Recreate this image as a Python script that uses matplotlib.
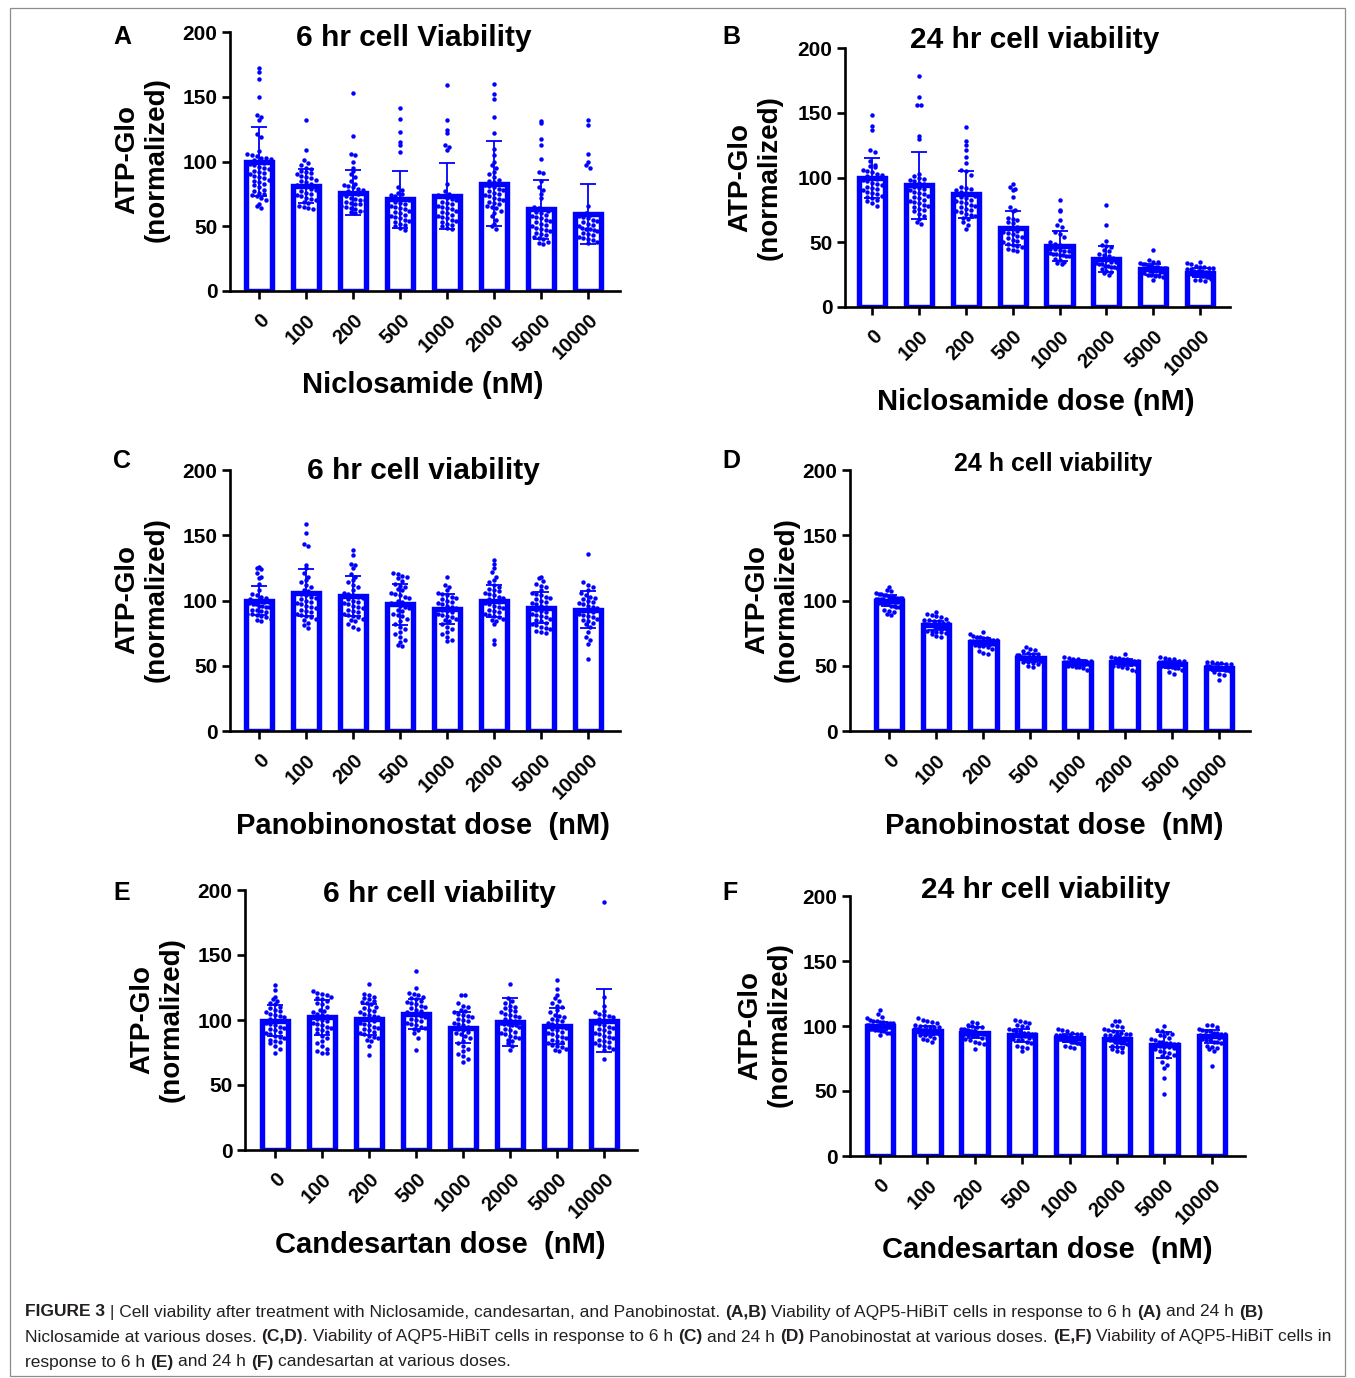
import matplotlib
matplotlib.use("Agg")
import matplotlib.pyplot as plt
import numpy as np

plt.rcParams['font.family'] = ['Liberation Sans', 'DejaVu Sans']

# doses shared by every panel
doses = ['0', '100', '200', '500', '1000', '2000', '5000', '10000']

# panel A: niclosamide 6 hr
a_mean = [100, 81, 76, 71, 73, 83, 63, 59.5]
a_sd = [27, 13, 17.5, 22, 25.5, 33, 23, 23]
a_pts = [
    [172, 169, 164, 150, 136, 134, 132, 121, 119, 108, 106, 105, 104, 103, 103, 102, 101, 100, 99, 98,
     97, 96, 95, 94, 93, 92, 91, 90, 89, 88, 87, 86, 85, 84, 83, 82, 80, 78, 77, 76, 75, 74, 73, 72, 70, 67, 66, 64],
    [132, 109, 101, 99, 97, 95, 94, 93, 92, 91, 90, 89, 88, 87, 86, 85, 84, 83, 82, 81, 80, 79, 78, 77, 76,
     75, 74, 73, 72, 71, 70, 69, 68, 66, 65, 64, 63],
    [153, 120, 106, 105, 100, 95, 93, 90, 88, 85, 83, 82, 81, 80, 79, 78, 77, 76, 75, 74, 73, 72, 71, 70, 70,
     69, 68, 67, 67, 66, 65, 64, 63, 62, 62, 61, 60],
    [141, 133, 123, 115, 113, 107, 80, 78, 76, 75, 74, 73, 72, 71, 70, 69, 68, 67, 66, 65, 64, 63, 62, 61, 60,
     59, 58, 57, 56, 55, 54, 53, 52, 51, 50, 49, 47],
    [159, 132, 124, 122, 113, 111, 109, 83, 77, 75, 74, 73, 72, 71, 70, 69, 68, 67, 66, 65, 64, 63, 62, 61, 60,
     59, 58, 57, 56, 55, 54, 53, 52, 51, 50, 49, 48],
    [160, 152, 148, 134, 122, 110, 105, 100, 97, 95, 92, 90, 88, 86, 85, 84, 83, 82, 81, 80, 79, 78, 77, 76, 75,
     74, 73, 72, 71, 70, 69, 68, 67, 66, 65, 64, 62, 60, 58, 55, 52, 50, 48],
    [131, 130, 117, 113, 102, 92, 91, 85, 80, 78, 75, 72, 65, 64, 63, 62, 61, 60, 59, 58, 57, 56, 55, 54, 53,
     52, 51, 50, 49, 48, 47, 46, 45, 44, 43, 42, 41, 40, 38, 37, 36],
    [132, 128, 106, 100, 97, 95, 66, 60, 59, 58, 57, 56, 55, 54, 53, 52, 51, 50, 50, 49, 48, 48, 47, 46, 46,
     45, 44, 43, 42, 41, 40, 39, 38, 37],
]

# panel B: niclosamide 24 hr
b_mean = [99.5, 94, 87, 61, 47, 37, 29, 26.5]
b_sd = [15.5, 26, 18, 13.5, 11.5, 10, 4.5, 3.5]
b_pts = [
    [148, 140, 137, 121, 120, 113, 110, 109, 108, 106, 105, 104, 103, 102, 101, 100, 99, 98, 97, 96, 95, 94,
     93, 92, 91, 90, 89, 88, 87, 86, 85, 84, 83, 82, 80, 78],
    [178, 162, 156, 156, 132, 130, 103, 101, 100, 99, 98, 97, 96, 95, 94, 93, 92, 91, 90, 89, 88, 87, 86, 85,
     84, 83, 82, 81, 80, 79, 78, 77, 76, 75, 74, 72, 70, 68, 66, 64],
    [139, 128, 125, 121, 116, 111, 106, 105, 102, 93, 92, 91, 90, 89, 88, 87, 86, 85, 84, 83, 82, 81, 80, 79,
     78, 77, 76, 75, 74, 73, 72, 71, 70, 69, 68, 66, 63, 60],
    [95, 93, 91, 90, 85, 77, 75, 74, 69, 68, 67, 66, 65, 62, 61, 60, 59, 58, 57, 56, 55, 54, 53, 52, 51, 50,
     49, 48, 47, 46, 45, 44, 43],
    [83, 75, 74, 67, 63, 62, 58, 56, 54, 50, 49, 48, 47, 46, 45, 45, 44, 43, 43, 42, 42, 41, 41, 40, 40, 39,
     39, 38, 37, 36, 35, 34, 33],
    [79, 63, 51, 48, 47, 46, 44, 43, 41, 40, 39, 38, 37, 36, 36, 35, 35, 34, 34, 33, 33, 32, 32, 31, 31, 30,
     30, 29, 28, 27, 26, 25],
    [44, 36, 35, 35, 34, 33, 33, 32, 32, 31, 31, 31, 30, 30, 30, 29, 29, 29, 28, 28, 28, 27, 27, 27, 26, 26,
     25, 25, 24, 24, 23, 22, 21],
    [35, 34, 33, 32, 31, 31, 30, 30, 29, 29, 28, 28, 28, 27, 27, 27, 26, 26, 26, 25, 25, 25, 24, 24, 24, 23,
     23, 22, 22, 21, 21, 20],
]

# panel C: panobinostat 6 hr
c_mean = [100, 106, 103.5, 97, 93.5, 99.5, 94.5, 93]
c_sd = [11, 18, 15, 16, 11.5, 12, 12, 14]
c_pts = [
    [126, 125, 124, 121, 118, 117, 113, 108, 105, 104, 103, 102, 101, 100, 100, 99, 99, 98, 98, 97, 97, 96,
     96, 95, 95, 94, 93, 93, 92, 91, 90, 90, 89, 88, 87, 86, 85, 84],
    [159, 152, 143, 142, 127, 125, 121, 118, 116, 114, 112, 110, 108, 107, 106, 105, 104, 103, 102, 101, 100,
     99, 98, 97, 96, 95, 94, 93, 92, 91, 90, 89, 88, 87, 86, 85, 83, 81, 79],
    [139, 135, 128, 127, 125, 120, 118, 116, 114, 112, 110, 108, 106, 105, 104, 103, 102, 101, 100, 99, 98,
     97, 96, 95, 94, 93, 92, 91, 90, 89, 88, 87, 86, 85, 84, 82, 80, 78],
    [121, 120, 119, 118, 117, 115, 113, 111, 110, 109, 108, 106, 105, 104, 103, 102, 100, 99, 98, 97, 96, 95,
     94, 93, 92, 90, 89, 88, 86, 84, 82, 80, 78, 76, 74, 72, 70, 68, 66, 65],
    [118, 112, 110, 108, 106, 105, 104, 103, 102, 101, 100, 99, 98, 97, 96, 95, 94, 93, 92, 91, 90, 89, 88,
     87, 86, 85, 84, 82, 80, 78, 76, 74, 72, 70, 69],
    [131, 128, 125, 122, 118, 116, 114, 112, 110, 109, 108, 107, 106, 105, 104, 103, 102, 101, 100, 99, 98,
     97, 96, 95, 94, 93, 92, 91, 90, 89, 88, 87, 86, 85, 84, 82, 70, 67],
    [118, 117, 115, 113, 111, 110, 108, 106, 105, 104, 103, 102, 101, 100, 99, 98, 97, 96, 95, 94, 93, 92,
     91, 90, 89, 88, 87, 86, 85, 84, 83, 82, 81, 80, 79, 78, 77, 76, 75],
    [136, 114, 112, 110, 108, 106, 104, 103, 102, 101, 100, 99, 98, 97, 96, 95, 94, 93, 92, 91, 90, 89, 88,
     87, 86, 85, 84, 83, 82, 80, 76, 72, 70, 67, 55],
]

# panel D: panobinostat 24 h
d_mean = [100, 81, 68.5, 56, 52, 52.5, 51, 48.5]
d_sd = [4, 3.5, 3, 3, 2.5, 2.5, 2.8, 2.5]
d_pts = [
    [110, 108, 107, 106, 105, 105, 104, 104, 103, 103, 103, 102, 102, 102, 101, 101, 101, 101, 100, 100, 100,
     100, 99, 99, 99, 99, 98, 98, 98, 97, 97, 96, 96, 95, 95, 94, 93, 92, 91, 90, 89],
    [91, 90, 89, 88, 87, 86, 85, 85, 84, 84, 83, 83, 82, 82, 82, 81, 81, 81, 80, 80, 80, 79, 79, 79, 78, 78,
     77, 77, 76, 76, 75, 74, 73, 72],
    [76, 74, 73, 72, 72, 71, 71, 70, 70, 70, 69, 69, 69, 69, 68, 68, 68, 67, 67, 67, 66, 66, 65, 65, 64, 63,
     62, 61, 60, 59],
    [64, 63, 62, 61, 60, 59, 59, 58, 58, 57, 57, 57, 56, 56, 56, 56, 55, 55, 55, 54, 54, 54, 53, 53, 52, 51,
     50, 49],
    [57, 56, 55, 55, 54, 54, 54, 53, 53, 53, 52, 52, 52, 52, 51, 51, 51, 50, 50, 50, 49, 49, 48, 47, 46],
    [59, 57, 56, 56, 55, 55, 54, 54, 54, 53, 53, 53, 53, 52, 52, 52, 51, 51, 51, 50, 50, 49, 48, 47, 46],
    [57, 56, 55, 55, 54, 54, 53, 53, 53, 52, 52, 52, 51, 51, 51, 51, 50, 50, 50, 49, 49, 48, 48, 47, 46, 45, 44],
    [53, 53, 52, 52, 51, 51, 50, 50, 50, 49, 49, 49, 49, 48, 48, 48, 48, 47, 47, 47, 46, 46, 45, 44, 43, 39],
]

# panel E: candesartan 6 hr
e_mean = [99.5, 102, 100.5, 104.5, 94, 98.5, 95.5, 99.5]
e_sd = [12, 13.5, 12, 11.5, 12, 18.5, 14, 24]
e_pts = [
    [127, 123, 118, 116, 115, 113, 112, 110, 109, 108, 107, 106, 105, 104, 103, 102, 101, 100, 99, 98, 97,
     96, 95, 94, 93, 92, 91, 90, 89, 88, 87, 86, 85, 84, 83, 82, 80, 78, 75],
    [122, 121, 120, 119, 118, 117, 116, 115, 113, 112, 110, 108, 107, 106, 105, 104, 103, 102, 101, 100, 99,
     98, 97, 96, 95, 94, 93, 92, 91, 90, 88, 86, 84, 82, 80, 78, 76, 75, 75],
    [128, 120, 119, 118, 117, 116, 115, 114, 113, 112, 110, 109, 108, 107, 106, 105, 104, 103, 102, 101, 100,
     99, 98, 97, 96, 95, 94, 93, 92, 91, 90, 89, 88, 87, 86, 85, 84, 80, 73],
    [138, 125, 121, 120, 119, 118, 117, 116, 115, 114, 113, 112, 111, 110, 109, 108, 107, 106, 105, 104, 103,
     102, 101, 100, 99, 98, 97, 96, 95, 94, 93, 92, 90, 86, 77],
    [119, 119, 113, 111, 110, 108, 107, 106, 105, 104, 103, 102, 101, 100, 99, 98, 97, 96, 95, 94, 93, 92,
     91, 90, 89, 88, 86, 84, 82, 80, 78, 76, 74, 72, 70, 68],
    [128, 117, 115, 113, 111, 110, 109, 108, 107, 106, 105, 104, 103, 102, 101, 100, 99, 98, 98, 97, 97, 96,
     96, 95, 94, 93, 92, 91, 90, 89, 88, 87, 86, 85, 84, 82, 80, 77],
    [131, 124, 119, 117, 115, 113, 111, 110, 108, 106, 104, 103, 102, 101, 100, 99, 98, 97, 96, 95, 94, 93,
     92, 91, 90, 89, 88, 87, 86, 85, 84, 83, 82, 81, 80, 79, 78, 77, 76],
    [191, 118, 111, 107, 106, 105, 104, 103, 102, 101, 100, 99, 98, 97, 96, 95, 94, 93, 92, 91, 90, 89, 88,
     87, 86, 85, 84, 83, 82, 81, 80, 79, 78, 77, 70],
]

# panel F: candesartan 24 hr
f_mean = [100, 96.5, 95, 93, 90.5, 90, 85.5, 92]
f_sd = [3, 3.5, 4, 5, 3, 6, 10, 5]
f_pts = [
    [112, 109, 107, 106, 105, 104, 104, 103, 103, 102, 102, 102, 101, 101, 101, 100, 100, 100, 100, 99, 99,
     99, 99, 98, 98, 98, 97, 97, 96, 96, 95, 95, 94, 93],
    [106, 105, 104, 103, 102, 101, 100, 100, 99, 99, 99, 98, 98, 98, 97, 97, 97, 96, 96, 96, 95, 95, 95, 94,
     94, 93, 93, 92, 91, 90, 89, 88],
    [103, 102, 101, 100, 99, 99, 98, 98, 97, 97, 96, 96, 96, 95, 95, 95, 94, 94, 94, 93, 93, 92, 92, 91, 91,
     90, 89, 88, 87, 86, 82],
    [105, 104, 103, 102, 101, 100, 99, 98, 97, 96, 96, 95, 95, 94, 94, 93, 93, 92, 92, 91, 91, 90, 90, 89,
     89, 88, 87, 86, 85, 84, 83, 81],
    [98, 97, 96, 95, 94, 94, 93, 93, 92, 92, 92, 91, 91, 91, 91, 90, 90, 90, 90, 89, 89, 89, 88, 88, 88, 87,
     87, 86, 86, 85, 84, 83],
    [104, 104, 101, 100, 99, 98, 97, 96, 95, 95, 94, 94, 93, 93, 92, 92, 91, 91, 90, 90, 89, 89, 88, 88, 87,
     87, 86, 86, 85, 84, 83, 82, 81, 80],
    [100, 97, 96, 95, 94, 93, 92, 91, 90, 89, 88, 88, 87, 87, 86, 86, 85, 85, 84, 84, 83, 82, 81, 80, 79, 78,
     77, 76, 72, 70, 68, 60, 48],
    [101, 101, 99, 98, 97, 96, 96, 95, 95, 94, 94, 93, 93, 92, 92, 91, 91, 90, 90, 89, 89, 88, 88, 87, 86,
     85, 84, 83, 82, 81, 69],
]

titles = ['6 hr cell Viability', '24 hr cell viability', '6 hr cell viability',
          '24 h cell viability', '6 hr cell viability', '24 hr cell viability']
xlabels = ['Niclosamide (nM)', 'Niclosamide dose (nM)', 'Panobinonostat dose  (nM)',
           'Panobinostat dose  (nM)', 'Candesartan dose  (nM)', 'Candesartan dose  (nM)']
letters = ['A', 'B', 'C', 'D', 'E', 'F']

W, H = 1355, 1378
BLUE = '#0000ff'

fig = plt.figure(figsize=(W / 100, H / 100), dpi=100)


def px(x, y):
    return x / W, 1 - y / H


# layout in pixels: axes left, right, bottom (y of 0), top (y of 200)
boxes = [(230, 620, 291, 32), (845, 1230, 307, 48), (230, 620, 731, 470),
         (850, 1250, 731, 470), (245, 637, 1150, 890), (850, 1245, 1156, 896)]
xlims = [(-0.62, 7.68), (-0.58, 7.64), (-0.62, 7.68), (-0.83, 7.66), (-0.64, 7.7), (-0.63, 7.7)]
title_xy = [(414, 38), (1035, 40), (423, 471), (1053, 464), (439, 894), (1046, 890)]
title_fs = [21.5, 21.5, 21.5, 18, 21.5, 21.5]
letter_xy = [(122, 37), (731, 37), (122, 461), (731, 461), (122, 893), (730, 893)]
ylab_xy = [(142, 160), (755, 178), (142, 600), (772, 600), (157, 1020), (765, 1025)]
xlab_xy = [(423, 385), (1036, 402), (423, 826), (1054, 826), (440, 1245), (1047, 1250)]

means = [a_mean, b_mean, c_mean, d_mean, e_mean, f_mean]
sds = [a_sd, b_sd, c_sd, d_sd, e_sd, f_sd]
points = [a_pts, b_pts, c_pts, d_pts, e_pts, f_pts]


def swarm_x(vals, center, dy=4.0, dx=0.1, maxw=0.56):
    # rows of dots spread sideways, Prism style; y stays at the value
    vals = np.asarray(vals, dtype=float)
    bins = np.round(vals / dy).astype(int)
    xs = np.zeros(len(vals))
    for b in np.unique(bins):
        idx = np.where(bins == b)[0]
        k = len(idx)
        step = dx if k < 2 else min(dx, maxw / (k - 1))
        xs[idx] = center + (np.arange(k) - (k - 1) / 2) * step
    return xs


for i in range(6):
    l, r, b0, t = boxes[i]
    ax = fig.add_axes([l / W, 1 - b0 / H, (r - l) / W, (b0 - t) / H])
    x = np.arange(len(doses))
    ax.bar(x, means[i], width=0.56, color='white', edgecolor=BLUE, linewidth=3.9, zorder=2)
    for j, vals in enumerate(points[i]):
        ax.plot(swarm_x(vals, j), vals, 'o', ms=3.2, color=BLUE, mec='none', zorder=3, clip_on=False)
    ax.errorbar(x, means[i], yerr=sds[i], fmt='none', ecolor=BLUE, elinewidth=1.3,
                capsize=5.5, capthick=1.3, zorder=4)
    ax.set_ylim(0, 200)
    ax.set_xlim(*xlims[i])
    ax.set_yticks([0, 50, 100, 150, 200])
    ax.set_xticks(x)
    ax.set_xticklabels(doses, rotation=45, ha='right', rotation_mode='anchor')
    for s in ['top', 'right']:
        ax.spines[s].set_visible(False)
    for s in ['left', 'bottom']:
        ax.spines[s].set_linewidth(1.9)
    ax.tick_params(width=1.9, length=6, pad=3)
    ax.tick_params(axis='y', labelsize=15)
    ax.tick_params(axis='x', labelsize=14.5, pad=8)
    for lab in ax.get_xticklabels() + ax.get_yticklabels():
        lab.set_fontweight('bold')

    fig.text(*px(*title_xy[i]), titles[i], fontsize=title_fs[i], fontweight='bold',
             ha='center', va='center')
    fig.text(*px(*letter_xy[i]), letters[i], fontsize=18, fontweight='bold', ha='center', va='center')
    fig.text(*px(*ylab_xy[i]), 'ATP-Glo\n(normalized)', fontsize=20, fontweight='bold',
             rotation=90, ha='center', va='center', linespacing=1.2)
    fig.text(*px(*xlab_xy[i]), xlabels[i], fontsize=21, fontweight='bold', ha='center', va='center')

# frame around the figure
fig.add_artist(plt.Rectangle(px(10, 1376), 1335 / W, 1368 / H, fill=False,
                             edgecolor='#8c8c8c', linewidth=0.9, transform=fig.transFigure))

# caption with bold runs
caption = [
    [('FIGURE 3', True), (' | Cell viability after treatment with Niclosamide, candesartan, and Panobinostat. ', False),
     ('(A,B)', True), (' Viability of AQP5-HiBiT cells in response to 6 h ', False), ('(A)', True),
     (' and 24 h ', False), ('(B)', True)],
    [('Niclosamide at various doses. ', False), ('(C,D)', True),
     ('. Viability of AQP5-HiBiT cells in response to 6 h ', False), ('(C)', True), (' and 24 h ', False),
     ('(D)', True), (' Panobinostat at various doses. ', False), ('(E,F)', True),
     (' Viability of AQP5-HiBiT cells in', False)],
    [('response to 6 h ', False), ('(E)', True), (' and 24 h ', False), ('(F)', True),
     (' candesartan at various doses.', False)],
]
cap_y = [1312, 1337, 1362]
cap_fs = 12.5
renderer = fig.canvas.get_renderer()


def text_w(s, bold):
    t = fig.text(0, 0, s, fontsize=cap_fs, fontweight='bold' if bold else 'normal')
    w = t.get_window_extent(renderer).width
    t.remove()
    return w


space_w = text_w('a a', False) - text_w('aa', False)
for line, yy in zip(caption, cap_y):
    xx = 25
    for s, bold in line:
        lead = len(s) - len(s.lstrip(' '))
        trail = len(s) - len(s.rstrip(' '))
        core = s.strip(' ')
        xx += lead * space_w
        fig.text(*px(xx, yy), core, fontsize=cap_fs, fontweight='bold' if bold else 'normal',
                 ha='left', va='center', color='#231f20')
        xx += text_w(core, bold) + trail * space_w

fig.savefig('out.png', dpi=100)
